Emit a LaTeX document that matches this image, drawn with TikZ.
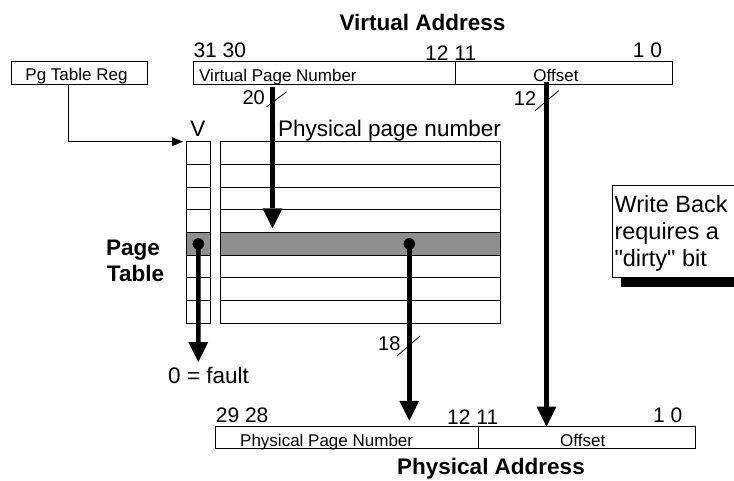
\documentclass[tikz,border=0pt]{standalone}
\usepackage{fontspec}
\setmainfont{Liberation Sans}[Ligatures=TeXOff]
\usetikzlibrary{arrows.meta,calc}
\definecolor{rowgray}{RGB}{143,143,143}
\begin{document}
\begin{tikzpicture}[x=1pt,y=-1pt,
  field/.style={draw,line width=1pt,inner sep=0pt,outer sep=0pt,anchor=north west,minimum height=22.3pt},
  cell/.style={draw,line width=1pt,inner sep=0pt,outer sep=0pt,anchor=north west,minimum height=22.7pt},
  lbl/.style={inner sep=0pt,anchor=base west,font=\fontsize{22.5}{27}\selectfont},
  num/.style={inner sep=0pt,anchor=base west,font=\fontsize{21}{25}\selectfont},
  wnum/.style={inner sep=0pt,anchor=base west,font=\fontsize{20}{24}\selectfont},
  small/.style={inner sep=0pt,anchor=base,font=\fontsize{17}{20}\selectfont},
  heading/.style={inner sep=0pt,anchor=base,font=\bfseries\fontsize{22.5}{27}\selectfont},
  bus/.style={line width=4.5pt,-{Triangle[width=20pt,length=20pt,line width=0pt]}},
  dot/.style={circle,fill=black,inner sep=0pt,minimum size=11.5pt},
  slash/.style={line width=0.8pt},
  wire/.style={line width=1pt,-{Triangle[width=9pt,length=11pt,line width=0pt]}}
]
\useasboundingbox (0,0) rectangle (734,480);

% Write Back note with shadow
\fill[black] (620.7,194) rectangle (750,286.5);
\node[field, fill=white, minimum width=130pt, minimum height=92.5pt] (wb) at (612.7,185) {};
\node[inner sep=0pt, anchor=north west, align=left, font=\fontsize{23.5}{27.2}\selectfont] (wbtext) at (614.3,194.9) {Write Back\\requires a\\"dirty" bit};

% Virtual address
\node[heading] (vatitle) at (422.5,30.7) {Virtual Address};
\node[field, minimum width=262.4pt] (vpn) at (193.3,61.7) {};
\node[field, minimum width=217pt] (voff) at (455.7,61.7) {};
\node[small, anchor=base west] (vpntext) at (199,81.5) {Virtual Page Number};
\node[small] (vofftext) at (556,81) {Offset};
\node[num] (b3130) at (193.3,57.7) {31 30};
\node[num] (b1211) at (425,60) {12 11};
\node[num] (b10) at (632.7,57.7) {1 0};

% Page table register
\node[field, minimum width=135.3pt] (ptr) at (11.7,61.7) {};
\node[small] (ptrtext) at (76.5,80.5) {Pg Table Reg};

% Page table
\foreach \i in {1,...,8} {
  \ifnum\i=5 \def\rf{rowgray}\else\def\rf{white}\fi
  \node[cell, fill=\rf, minimum width=23.3pt] (v\i) at (186.7,{141.7+22.7*(\i-1)}) {};
  \node[cell, fill=\rf, minimum width=280pt] (p\i) at (220,{141.7+22.7*(\i-1)}) {};
}
\node[lbl, anchor=base] (vlabel) at (198,136.5) {V};
\node[lbl] (ppnlabel) at (278,136.5) {Physical page number};
\node[heading] (pt1) at (133,255) {Page};
\node[heading] (pt2) at (135.5,281.7) {Table};

% Physical address
\node[field, minimum width=262.6pt, minimum height=21.6pt] (ppn) at (215.7,426.7) {};
\node[field, minimum width=217.4pt, minimum height=21.6pt] (poff) at (478.3,426.7) {};
\node[small, anchor=base west] (ppntext) at (240,446.5) {Physical Page Number};
\node[small] (pofftext) at (582.7,446.5) {Offset};
\node[num] (p2928) at (215.7,422) {29 28};
\node[num] (p1211) at (447,424.5) {12 11};
\node[num] (p10) at (653,422) {1 0};
\node[heading] (patitle) at (491,474.5) {Physical Address};

% dots
\node[dot] (vdot) at (v5.center) {};
\node[dot] (pdot) at ($(p5.center)+(49.3,0)$) {};

% connectors
\coordinate (ptrout) at (68.3,84);
\coordinate (tabin) at (183,141.7);
\draw[wire] (ptrout) |- (tabin);

\coordinate (vpnout) at (272.5,86.5);
\coordinate (vpntip) at (272.5,228.3);
\draw[bus] (vpnout) -- (vpntip);

\coordinate (offout) at (546.5,82);
\draw[bus] (offout) -- (poff.north -| offout);

\coordinate (faulttip) at (198.35,362);
\draw[bus] (vdot.center) -- (faulttip);

\coordinate (ppntip) at ($(pdot.center)+(0,177)$);
\draw[bus] (pdot.center) -- (ppntip);

% width ticks
\draw[slash] (266.7,106.7) -- (286.7,91.7);
\draw[slash] (535,110.7) -- (558.7,90.7);
\draw[slash] (397,356) -- (420,336);
\node[wnum] (w20) at (242.3,104.3) {20};
\node[wnum] (w12) at (513.7,105) {12};
\node[wnum] (w18) at (378,350) {18};
\node[lbl] (fault) at (168,383) {0 = fault};
\end{tikzpicture}
\end{document}
